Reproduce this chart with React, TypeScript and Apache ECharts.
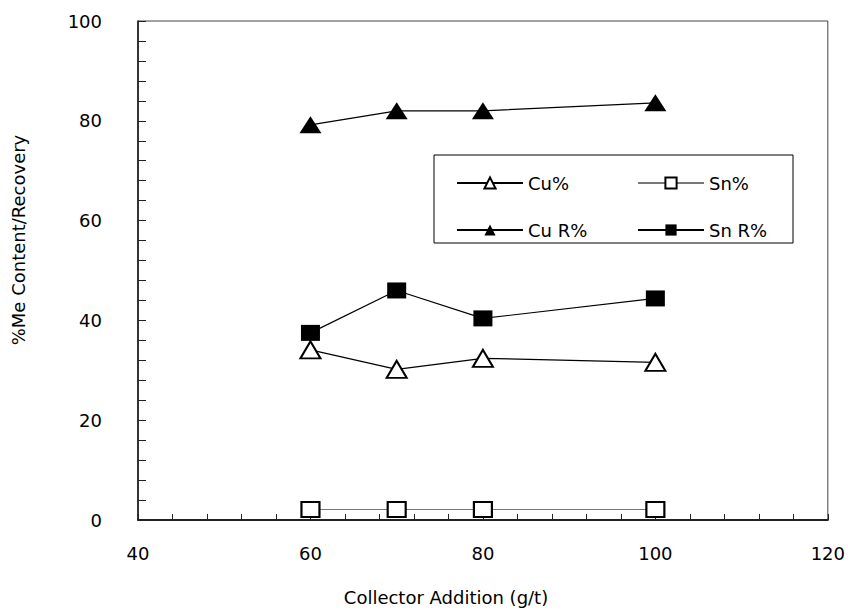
import React, { useEffect, useRef } from "react";
import * as echarts from "echarts";

const xValues = [60, 70, 80, 100];
const cuPct = [34.1, 30.2, 32.4, 31.6];
const snPct = [2.1, 2.1, 2.1, 2.1];
const cuRec = [79.2, 82.0, 82.0, 83.6];
const snRec = [37.5, 46.0, 40.4, 44.4];

const xTitle = "Collector Addition (g/t)";
const yTitle = "%Me Content/Recovery";

const FONT = "'DejaVu Sans', sans-serif";

const pairs = (ys: number[]) => xValues.map((x, i) => [x, ys[i]]);

export default function App() {
  const ref = useRef<HTMLDivElement>(null);
  useEffect(() => {
    if (!ref.current) return;
    const chart = echarts.init(ref.current, null, { renderer: "svg" });
    const lineSeries = (
      name: string,
      data: number[],
      symbol: string,
      size: number[],
      lineColor: string,
      bw: number
    ) => ({
      name,
      type: "line",
      data: pairs(data),
      symbol,
      symbolSize: size,
      showSymbol: true,
      lineStyle: { color: lineColor, width: 1.2 },
      itemStyle: { color: "#000", borderColor: "#000", borderWidth: bw },
      emphasis: { disabled: true },
    });
    chart.setOption({
      animation: false,
      backgroundColor: "#fff",
      textStyle: { fontFamily: FONT },
      grid: {
        left: 138,
        right: 15,
        top: 21,
        bottom: 91,
        show: true,
        borderColor: "#444",
        borderWidth: 1,
        backgroundColor: "transparent",
      },
      xAxis: {
        type: "value",
        min: 40,
        max: 120,
        interval: 20,
        axisLine: { show: true, onZero: false, lineStyle: { color: "#222", width: 2 } },
        axisTick: { show: true, inside: true, length: 6, lineStyle: { color: "#222", width: 1 } },
        minorTick: { show: true, splitNumber: 5, length: 6, lineStyle: { color: "#222", width: 1 } },
        splitLine: { show: false },
        axisLabel: { color: "#000", fontSize: 18, fontFamily: FONT, margin: 24 },
      },
      yAxis: {
        type: "value",
        min: 0,
        max: 100,
        interval: 20,
        axisLine: { show: true, onZero: false, lineStyle: { color: "#111", width: 1.5 } },
        axisTick: { show: true, inside: true, length: 8, lineStyle: { color: "#222", width: 1 } },
        minorTick: { show: true, splitNumber: 5, length: 8, lineStyle: { color: "#222", width: 1 } },
        splitLine: { show: false },
        axisLabel: { color: "#000", fontSize: 18, fontFamily: FONT, margin: 36, padding: [0, 0, 6, 0] },
      },
      legend: [
        {
          data: ["Cu%", "Cu R%"],
          orient: "vertical",
          left: 451,
          top: 169,
          itemWidth: 66,
          itemHeight: 14,
          itemGap: 29,
          textStyle: { fontSize: 18, color: "#000", fontFamily: FONT },
          selectedMode: false,
        },
        {
          data: ["Sn%", "Sn R%"],
          orient: "vertical",
          left: 632,
          top: 169,
          itemWidth: 66,
          itemHeight: 14,
          itemGap: 29,
          textStyle: { fontSize: 18, color: "#000", fontFamily: FONT },
          selectedMode: false,
        },
      ],
      graphic: [
        {
          type: "rect",
          shape: { x: 434, y: 155, width: 359, height: 88 },
          style: { fill: "none", stroke: "#000", lineWidth: 1 },
          z: 1,
        },
        {
          type: "text",
          x: 446,
          y: 597,
          style: {
            text: xTitle,
            fontSize: 18,
            fontFamily: FONT,
            fill: "#000",
            textAlign: "center",
            textVerticalAlign: "middle",
          },
        },
        {
          type: "text",
          x: 18,
          y: 240,
          rotation: Math.PI / 2,
          style: {
            text: yTitle,
            fontSize: 18,
            fontFamily: FONT,
            fill: "#000",
            textAlign: "center",
            textVerticalAlign: "middle",
          },
        },
      ],
      series: [
        lineSeries("Cu%", cuPct, "emptyTriangle", [20, 17], "#000", 2),
        lineSeries("Sn%", snPct, "emptyRect", [18, 15], "#777", 2.5),
        lineSeries("Cu R%", cuRec, "triangle", [22, 17], "#000", 0),
        lineSeries("Sn R%", snRec, "rect", [19, 16], "#000", 0),
      ],
    });
    return () => chart.dispose();
  }, []);
  return (
    <div
      ref={ref}
      style={{ position: "absolute", left: 0, top: 0, width: 848, height: 611 }}
    />
  );
}
